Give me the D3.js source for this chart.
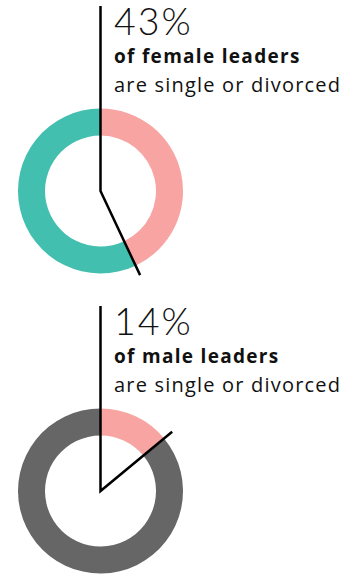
<!DOCTYPE html>
<html>
<head>
<meta charset="utf-8">
<script src="https://cdn.jsdelivr.net/npm/d3@7"></script>
<style>
  body { margin: 0; background: #fff; }
  svg { display: block; }
  text { fill: #111; }
</style>
</head>
<body>
<svg width="359" height="576"></svg>
<script>
var svg = d3.select("svg");

// data
var percents = [43, 14];
var bigLabels = ["43%", "14%"];
var boldLabels = ["of female leaders", "of male leaders"];
var subLabels = ["are single or divorced", "are single or divorced"];

var pinkColor = "#f7a4a2";
var restColors = ["#43bfaf", "#666666"];

var panelHeight = 300;
var cx = 100.5;
var cy = 191;
var outerR = 82.5;
var innerR = 55.5;
var pointerR = 93;

var pie = d3.pie().sort(null).value(function(d) { return d; });
var arc = d3.arc().innerRadius(innerR).outerRadius(outerR);

percents.forEach(function(p, i) {
  var g = svg.append("g")
    .attr("transform", "translate(0," + (i * panelHeight) + ")");

  var donut = g.append("g")
    .attr("transform", "translate(" + cx + "," + cy + ")");

  donut.selectAll("path")
    .data(pie([p, 100 - p]))
    .enter().append("path")
    .attr("d", arc)
    .attr("fill", function(d, j) { return j === 0 ? pinkColor : restColors[i]; });

  // pointer: vertical from the text down to the centre, then out along the slice edge
  var a = pie([p, 100 - p])[0].endAngle;
  var lineData = [[0, 6 - cy], [0, 0], [pointerR * Math.sin(a), -pointerR * Math.cos(a)]];
  donut.append("path")
    .attr("d", d3.line()(lineData))
    .attr("fill", "none")
    .attr("stroke", "#000")
    .attr("stroke-width", 2.5);

  g.append("text")
    .attr("x", 114)
    .attr("y", 35)
    .style("font-family", "Lato, sans-serif")
    .style("font-size", "37.5px")
    .style("font-weight", 300)
    .style("letter-spacing", "2px")
    .text(bigLabels[i]);

  g.append("text")
    .attr("x", 114)
    .attr("y", 63)
    .style("font-family", "'Open Sans', sans-serif")
    .style("font-size", "19px")
    .style("font-weight", 700)
    .style("letter-spacing", "1.3px")
    .text(boldLabels[i]);

  g.append("text")
    .attr("x", 114)
    .attr("y", 92)
    .style("font-family", "'Open Sans', sans-serif")
    .style("font-size", "20px")
    .style("font-weight", 400)
    .style("letter-spacing", "1.2px")
    .text(subLabels[i]);
});
</script>
</body>
</html>
